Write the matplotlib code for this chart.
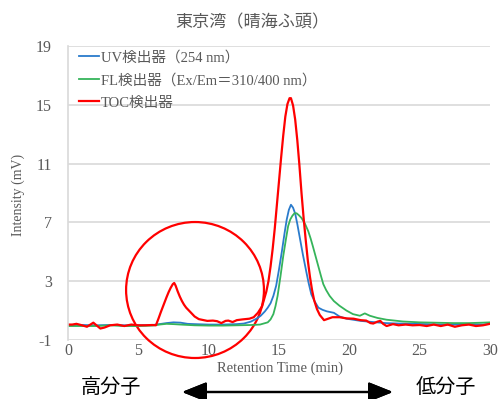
import matplotlib
matplotlib.use('Agg')
import matplotlib.pyplot as plt
from matplotlib.patches import Ellipse

plt.rcParams['axes.unicode_minus'] = False

# retention time (min) / intensity (mV)
toc_time = [0, 0.3, 0.6, 1.0, 1.35, 1.8, 2.3, 2.6, 3.0, 3.5, 4.0, 4.5, 5.0, 5.5, 6.0, 6.25,
            6.45, 6.6, 6.8, 7.0, 7.15, 7.3, 7.45, 7.55, 7.65, 7.8, 7.95, 8.1, 8.25, 8.4, 8.55,
            8.7, 9.0, 9.3, 9.9, 10.3, 10.6, 10.9, 11.2, 11.4, 11.7, 12.0, 12.4, 12.9, 13.2,
            13.5, 13.8, 14.1, 14.25, 14.4, 14.55, 14.7, 14.85, 15.0, 15.15, 15.3, 15.45, 15.6,
            15.75, 15.85, 16.0, 16.15, 16.3, 16.45, 16.6, 16.75, 16.9, 17.05, 17.2, 17.35,
            17.5, 17.7, 17.9, 18.2, 18.5, 18.8, 19.3, 19.8, 20.3, 20.8, 21.2, 21.5, 21.7, 22.0,
            22.2, 22.4, 22.65, 23.1, 23.5, 24.0, 24.5, 25.0, 25.5, 26.0, 26.5, 27.0, 27.5,
            28.0, 28.5, 29.0, 29.5, 30.0]
toc_mv = [0.05, 0.05, 0.1, 0.0, -0.1, 0.18, -0.22, -0.15, 0.0, 0.05, -0.05, 0.05, 0.0, 0.0,
          0.02, 0.0, 0.5, 0.9, 1.4, 1.9, 2.25, 2.55, 2.8, 2.88, 2.7, 2.3, 1.95, 1.65, 1.4,
          1.2, 1.05, 0.9, 0.6, 0.42, 0.3, 0.32, 0.28, 0.15, 0.3, 0.32, 0.22, 0.35, 0.4, 0.45,
          0.55, 0.85, 1.3, 2.3, 3.0, 4.0, 5.2, 6.6, 8.2, 9.8, 11.4, 12.9, 14.2, 15.05, 15.45,
          15.45, 14.95, 14.0, 12.6, 10.9, 9.0, 7.3, 5.8, 4.4, 3.3, 2.4, 1.7, 1.1, 0.7, 0.35,
          0.45, 0.55, 0.55, 0.47, 0.45, 0.35, 0.32, 0.15, 0.12, 0.25, 0.3, 0.1, -0.05, 0.08,
          0.0, 0.05, 0.0, 0.02, -0.05, 0.05, -0.05, 0.05, -0.1, 0.0, 0.05, -0.05, 0.0, 0.1]

uv_time = [0, 1, 2, 3, 4, 5, 6, 6.5, 7.0, 7.5, 8.0, 8.5, 9, 10, 11, 12, 12.5, 13.0, 13.4,
           13.7, 14.0, 14.2, 14.4, 14.6, 14.8, 15.0, 15.2, 15.4, 15.55, 15.7, 15.85, 16.0,
           16.15, 16.3, 16.5, 16.7, 16.95, 17.1, 17.3, 17.55, 17.8, 18.1, 18.4, 18.9, 19.3,
           19.8, 20.8, 21.7, 22.6, 23.5, 24.5, 25.5, 26.5, 27.5, 28.5, 29.5, 30]
uv_mv = [0, 0.02, 0, 0.02, 0, 0.0, 0.02, 0.08, 0.15, 0.2, 0.18, 0.1, 0.08, 0.05, 0.05, 0.08,
         0.12, 0.25, 0.45, 0.65, 0.95, 1.2, 1.5, 2.0, 2.7, 3.8, 5.0, 6.3, 7.2, 7.85, 8.2, 8.0,
         7.6, 6.9, 5.85, 4.8, 3.6, 2.9, 2.1, 1.6, 1.2, 1.05, 0.95, 0.85, 0.6, 0.45, 0.3, 0.22,
         0.15, 0.12, 0.1, 0.08, 0.05, 0.05, 0.08, 0.05, 0.1]

fl_time = [0, 1, 2, 3, 4, 5, 6, 6.5, 7, 7.5, 8, 9, 10, 11, 12, 13, 13.65, 14.2, 14.4, 14.6,
           14.75, 14.9, 15.1, 15.3, 15.5, 15.65, 15.8, 15.95, 16.1, 16.25, 16.4, 16.6, 16.85,
           17.08, 17.25, 17.4, 17.6, 17.8, 18.0, 18.15, 18.35, 18.6, 18.9, 19.3, 19.8, 20.26,
           20.75, 21.1, 21.46, 22.0, 22.65, 23.8, 25.0, 26, 27.4, 28.5, 29.5, 30]
fl_mv = [-0.05, -0.05, -0.05, 0, -0.05, -0.05, -0.02, 0.05, 0.1, 0.08, 0.05, 0.0, -0.02,
         -0.02, 0, 0.02, 0.05, 0.2, 0.4, 0.76, 1.3, 2.0, 3.3, 4.7, 5.9, 6.75, 7.2, 7.45, 7.62,
         7.62, 7.5, 7.3, 6.9, 6.4, 5.9, 5.4, 4.7, 4.0, 3.3, 2.8, 2.4, 2.0, 1.65, 1.33, 1.0,
         0.76, 0.65, 0.81, 0.65, 0.5, 0.38, 0.26, 0.2, 0.18, 0.15, 0.15, 0.18, 0.2]

x_ticks = [0, 5, 10, 15, 20, 25, 30]
y_ticks = [-1, 3, 7, 11, 15, 19]

GRAY = '#595959'
serif = ['Liberation Serif', 'Noto Sans CJK JP']
cjk = ['Noto Sans CJK JP', 'DejaVu Sans']

fig = plt.figure(figsize=(4.99, 3.99), dpi=100)
ax = fig.add_axes([68 / 499, 1 - 340 / 399, 422 / 499, 294 / 399])

ax.plot(uv_time, uv_mv, color='#2a7bcc', lw=1.3, label='UV検出器（254 nm）')
ax.plot(fl_time, fl_mv, color='#35b45a', lw=1.3, label='FL検出器（Ex/Em＝310/400 nm）')
ax.plot(toc_time, toc_mv, color='#ff0000', lw=1.6, label='TOC検出器')

ax.set_xlim(0, 30)
ax.set_ylim(-1, 19)
ax.set_xticks(x_ticks)
ax.set_yticks(y_ticks)
ax.grid(axis='y', color='#d9d9d9', lw=1.2)
ax.set_axisbelow(True)
ax.tick_params(length=0, labelsize=11.5, labelcolor=GRAY)
ax.tick_params(axis='y', pad=11.5)
ax.tick_params(axis='x', pad=2)
for lab in ax.get_xticklabels() + ax.get_yticklabels():
    lab.set_family(serif)
for s in ['top', 'right', 'bottom']:
    ax.spines[s].set_visible(False)
ax.spines['left'].set_color('#d9d9d9')
ax.spines['left'].set_linewidth(1.2)

leg = ax.legend(loc='upper left', bbox_to_anchor=(0.025, 0.985), frameon=False,
                borderpad=0, borderaxespad=0, handlelength=1.4, handletextpad=0.15,
                labelspacing=0.62, prop={'family': serif, 'size': 10.5})
for t in leg.get_texts():
    t.set_color(GRAY)

# highlight circle round the early TOC peak
ax.add_patch(Ellipse((9.03, 2.4), 9.8, 9.25, fill=False, edgecolor='#ff0000', lw=1.6,
                     clip_on=False))

fig.text(252 / 499, 1 - 22 / 399, '東京湾（晴海ふ頭）', ha='center', va='center',
         family=cjk, size=12.3, color=GRAY)
fig.text(18 / 499, 1 - 195 / 399, 'Intensity (mV)', ha='center', va='center',
         rotation=90, family=serif, size=10, color=GRAY)
fig.text(280 / 499, 1 - 368 / 399, 'Retention Time (min)', ha='center', va='center',
         family=serif, size=10.5, color=GRAY)

fig.text(111 / 499, 1 - 387 / 399, '高分子', ha='center', va='center', family=cjk,
         size=14.5, color='black')
fig.text(446 / 499, 1 - 387 / 399, '低分子', ha='center', va='center', family=cjk,
         size=14.5, color='black')
fig.add_artist(plt.annotate('', xy=(393 / 499, 1 - 392 / 399), xycoords='figure fraction',
                            xytext=(182 / 499, 1 - 392 / 399), textcoords='figure fraction',
                            arrowprops=dict(arrowstyle='<|-|>,head_length=0.75,head_width=0.3',
                                            color='black', lw=1.6, mutation_scale=20,
                                            shrinkA=0, shrinkB=0)))

fig.savefig('out.png', dpi=100)
